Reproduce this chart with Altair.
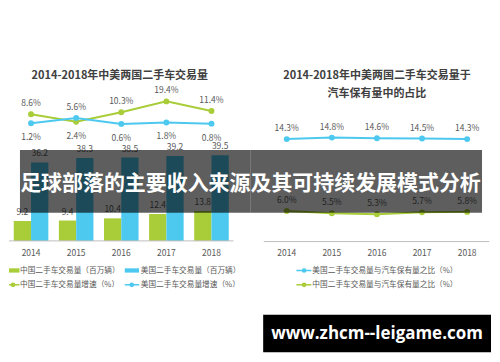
import altair as alt
import pandas as pd

# ---------------- data ----------------
years = ["2014", "2015", "2016", "2017", "2018"]
cn_volume = [9.2, 9.4, 10.4, 12.4, 13.8]
us_volume = [36.2, 38.3, 38.5, 39.2, 39.5]
cn_growth = [8.6, 2.4, 10.3, 19.4, 11.4]
us_growth = [1.2, 5.6, 0.6, 1.8, 0.8]
us_ratio = [14.3, 14.8, 14.6, 14.5, 14.3]
cn_ratio = [6.0, 5.5, 5.3, 5.7, 5.8]
series = ["中国", "美国"]

left_title = "2014-2018年中美两国二手车交易量"
right_title = ["2014-2018年中美两国二手车交易量于", "汽车保有量中的占比"]
left_legend = ["中国二手车交易量（百万辆）", "美国二手车交易量（百万辆）",
               "中国二手车交易量增速（%）", "美国二手车交易量增速（%）"]
right_legend = ["美国二手车交易量与汽车保有量之比（%）", "中国二手车交易量与汽车保有量之比（%）"]
banner = ["足球部落的主要收入来源", "及其可持续发展模式分析"]
watermark = "www.zhcm--leigame.com"

FONT = "Noto Sans CJK SC"
GREEN = "#a9cd38"
BLUE = "#4dc9f0"
TEXT = "#595959"
TITLE = "#404040"
AXIS = "#bfbfbf"

# ---------------- tables ----------------
vol = pd.DataFrame({
    "year": years * 2,
    "series": [series[0]] * 5 + [series[1]] * 5,
    "value": cn_volume + us_volume,
})
vol["label"] = vol["value"].map(lambda v: f"{v:.1f}")

gro = pd.DataFrame({
    "year": years * 2,
    "series": [series[0]] * 5 + [series[1]] * 5,
    "value": cn_growth + us_growth,
})
gro["label"] = gro["value"].map(lambda v: f"{v:.1f}%")
mx = gro.groupby("year")["value"].transform("max")
gro["pos"] = ["top" if v == m else "bottom" for v, m in zip(gro["value"], mx)]

rat_us = pd.DataFrame({"year": years, "value": us_ratio})
rat_us["label"] = rat_us["value"].map(lambda v: f"{v:.1f}%")
rat_cn = pd.DataFrame({"year": years, "value": cn_ratio})
rat_cn["label"] = rat_cn["value"].map(lambda v: f"{v:.1f}%")
yr = pd.DataFrame({"year": years})

color_scale = alt.Scale(domain=series, range=[GREEN, BLUE])


# ---------------- helpers for decorations ----------------
def text_layer(txt, x, y, size, color=TEXT, weight="normal", align="center", font=FONT):
    return alt.Chart(pd.DataFrame({"t": [txt]})).mark_text(
        fontSize=size, color=color, fontWeight=weight, align=align,
        baseline="middle", font=font
    ).encode(x=alt.value(x), y=alt.value(y), text="t:N")


def rect_layer(x, x2, y, y2, color, opacity=1.0):
    return alt.Chart(pd.DataFrame({"k": [0]})).mark_rect(color=color, opacity=opacity).encode(
        x=alt.value(x), x2=alt.value(x2), y=alt.value(y), y2=alt.value(y2))


def rule_layer(x, x2, y, color, width=1.0):
    return alt.Chart(pd.DataFrame({"k": [0]})).mark_rule(color=color, strokeWidth=width).encode(
        x=alt.value(x), x2=alt.value(x2), y=alt.value(y))


def dot_layer(x, y, color, size=22):
    return alt.Chart(pd.DataFrame({"k": [0]})).mark_circle(color=color, size=size, opacity=1).encode(
        x=alt.value(x), y=alt.value(y))


# ---------------- left panel ----------------
xL = alt.Scale(domain=years, range=[-0.5, 225.5], paddingInner=0.234, paddingOuter=0.117)
yBar = alt.Scale(domain=[0, 40], range=[233, 146.2])
yGro = alt.Scale(domain=[0, 20], range=[116.5, 92.5])
xo = alt.XOffset("series:N", scale=alt.Scale(domain=series, paddingInner=0, paddingOuter=0))

bars = alt.Chart(vol).mark_bar().encode(
    x=alt.X("year:N", scale=xL, axis=None),
    xOffset=xo,
    y=alt.Y("value:Q", scale=yBar, axis=None),
    color=alt.Color("series:N", scale=color_scale, legend=None),
)
bar_labels = alt.Chart(vol).mark_text(fontSize=8.5, color=TEXT, font=FONT, dy=-9, baseline="middle").encode(
    x=alt.X("year:N", scale=xL, axis=None),
    xOffset=xo,
    y=alt.Y("value:Q", scale=yBar, axis=None),
    text="label:N",
)
gro_line = alt.Chart(gro).mark_line(strokeWidth=2).encode(
    x=alt.X("year:N", scale=xL, axis=None),
    y=alt.Y("value:Q", scale=yGro, axis=None),
    color=alt.Color("series:N", scale=color_scale, legend=None),
)
gro_pts = alt.Chart(gro).mark_circle(size=35, opacity=1).encode(
    x=alt.X("year:N", scale=xL, axis=None),
    y=alt.Y("value:Q", scale=yGro, axis=None),
    color=alt.Color("series:N", scale=color_scale, legend=None),
)
gro_top = alt.Chart(gro).transform_filter("datum.pos == 'top'").mark_text(
    fontSize=8.5, color=TEXT, font=FONT, dy=-11, baseline="middle").encode(
    x=alt.X("year:N", scale=xL, axis=None),
    y=alt.Y("value:Q", scale=yGro, axis=None),
    text="label:N",
)
gro_bot = alt.Chart(gro).transform_filter("datum.pos == 'bottom'").mark_text(
    fontSize=8.5, color=TEXT, font=FONT, dy=14, baseline="middle").encode(
    x=alt.X("year:N", scale=xL, axis=None),
    y=alt.Y("value:Q", scale=yGro, axis=None),
    text="label:N",
)
years_left = alt.Chart(yr).mark_text(fontSize=8.5, color=TEXT, font=FONT, baseline="middle").encode(
    x=alt.X("year:N", scale=xL, axis=None), y=alt.value(245.3), text="year:N")

left = alt.layer(
    bars, bar_labels, gro_line, gro_pts, gro_top, gro_bot,
    rule_layer(0, 225, 233, AXIS),
    years_left,
    text_layer(left_title, 111, 67.7, 11, color=TITLE, weight="bold"),
    rect_layer(0, 10.5, 260.5, 264.8, GREEN),
    text_layer(left_legend[0], 11, 262.7, 7.7, align="left"),
    rect_layer(116, 130.3, 260.5, 264.8, BLUE),
    text_layer(left_legend[1], 132, 262.7, 7.7, align="left"),
    rule_layer(0, 10.5, 277, GREEN, 1.5),
    dot_layer(4, 277, GREEN),
    text_layer(left_legend[2], 11, 277, 7.7, align="left"),
    rule_layer(116, 130.5, 277, BLUE, 1.5),
    dot_layer(123, 277, BLUE),
    text_layer(left_legend[3], 132, 277, 7.7, align="left"),
    rect_layer(11, 242, 142, 204.7, "#000000", 0.63),
    text_layer(banner[0], 242, 176.3, 21, color="#ffffff", weight="bold", align="right"),
).resolve_scale(y="independent").properties(width=242, height=346)

# ---------------- right panel ----------------
xR = alt.Scale(domain=years, range=[13.7, 239.7], paddingInner=0.234, paddingOuter=0.117)
yUS = alt.Scale(domain=[14, 15], range=[131.9, 128.9])
yCN = alt.Scale(domain=[5, 6], range=[207.7, 203])


def ratio_layers(df, ys, color):
    base = alt.Chart(df).encode(
        x=alt.X("year:N", scale=xR, axis=None),
        y=alt.Y("value:Q", scale=ys, axis=None),
    )
    return [
        base.mark_line(strokeWidth=2, color=color),
        base.mark_circle(size=35, opacity=1, color=color),
        base.mark_text(fontSize=8.5, color=TEXT, font=FONT, dy=-11, baseline="middle").encode(text="label:N"),
    ]


years_right = alt.Chart(yr).mark_text(fontSize=8.5, color=TEXT, font=FONT, baseline="middle").encode(
    x=alt.X("year:N", scale=xR, axis=None), y=alt.value(245.3), text="year:N")

right = alt.layer(
    *ratio_layers(rat_us, yUS, BLUE),
    *ratio_layers(rat_cn, yCN, GREEN),
    rule_layer(13.3, 239.3, 233.7, AXIS),
    years_right,
    text_layer(right_title[0], 126.7, 67.7, 11, color=TITLE, weight="bold"),
    text_layer(right_title[1], 126.7, 86.3, 11, color=TITLE, weight="bold"),
    rule_layer(46, 61, 262.7, BLUE, 1.5),
    dot_layer(53.7, 262.7, BLUE),
    text_layer(right_legend[0], 62, 262.7, 7.7, align="left"),
    rule_layer(46, 61, 277, GREEN, 1.5),
    dot_layer(53.7, 277, GREEN),
    text_layer(right_legend[1], 62, 277, 7.7, align="left"),
    rect_layer(0, 232, 142, 204.7, "#000000", 0.63),
    text_layer(banner[1], 0, 176.3, 21, color="#ffffff", weight="bold", align="left"),
    rect_layer(12.7, 241, 307, 344.7, "#000000"),
    text_layer(watermark, 126.8, 326, 17, color="#ffffff", weight="bold", font="Open Sans"),
).resolve_scale(y="independent").properties(width=242, height=346)

chart = alt.hconcat(left, right, spacing=0, bounds="flush").properties(padding=0).configure_view(stroke=None)

chart.save("out.html", embed_options={"renderer": "svg", "actions": False})
